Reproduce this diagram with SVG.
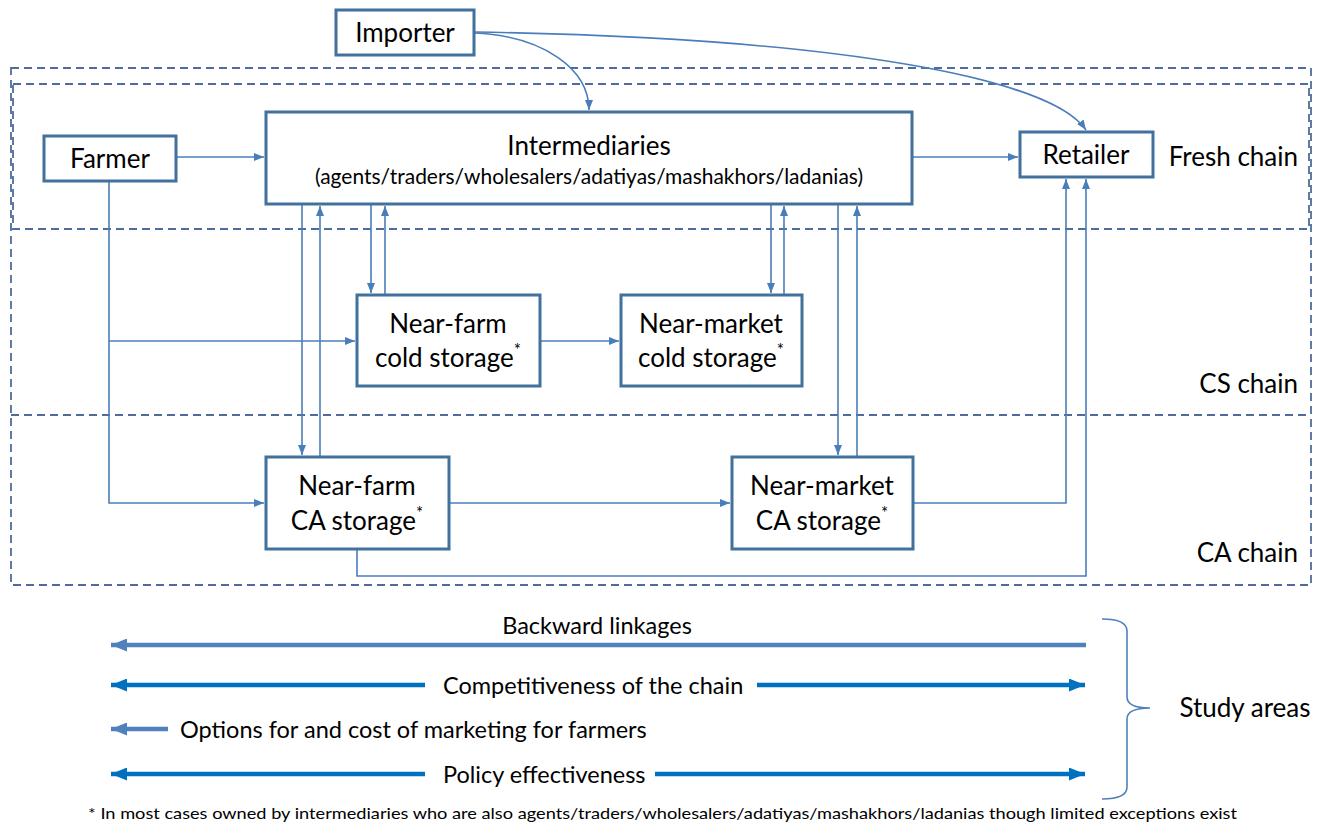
<svg xmlns="http://www.w3.org/2000/svg" width="1329" height="824" viewBox="0 0 1329 824">
  <defs>
    <style>
      .box { fill: #ffffff; stroke: #41719C; stroke-width: 3; }
      .lbl { font-family: Lato, "Liberation Sans", sans-serif; font-size: 26px; fill: #000000; text-anchor: middle; }
      .sub { font-family: Lato, "Liberation Sans", sans-serif; font-size: 20.5px; fill: #000000; text-anchor: middle; }
      .sup { font-size: 17px; }
      .zone { font-family: Lato, "Liberation Sans", sans-serif; font-size: 26px; fill: #000000; text-anchor: end; }
      .dash { fill: none; stroke: #4E6D9C; stroke-width: 1.8; stroke-dasharray: 8 5; }
      .con { fill: none; stroke: #4A7EBB; stroke-width: 1.6; marker-end: url(#arr); }
      .area { font-family: Lato, "Liberation Sans", sans-serif; font-size: 23.5px; fill: #000000; }
      .bl { fill: none; stroke: #4F81BD; stroke-width: 4.5; }
      .bb { fill: none; stroke: #0070C0; stroke-width: 4.5; }
      .note { font-family: Lato, "Liberation Sans", sans-serif; font-size: 15px; fill: #000000; }
    </style>
    <marker id="arr" viewBox="0 0 10 8" refX="10" refY="4" markerWidth="10" markerHeight="8" markerUnits="userSpaceOnUse" orient="auto">
      <path d="M0,0 L10,4 L0,8 z" fill="#4A7EBB"/>
    </marker>
    <marker id="bigL" viewBox="0 0 16 13" refX="16" refY="6.5" markerWidth="16" markerHeight="13" markerUnits="userSpaceOnUse" orient="auto">
      <path d="M0,0 L16,6.5 L0,13 z" fill="#4F81BD"/>
    </marker>
    <marker id="bigB" viewBox="0 0 16 13" refX="16" refY="6.5" markerWidth="16" markerHeight="13" markerUnits="userSpaceOnUse" orient="auto">
      <path d="M0,0 L16,6.5 L0,13 z" fill="#0070C0"/>
    </marker>
  </defs>

  <!-- chain zones -->
  <g id="zones">
    <rect class="dash" x="11" y="68" width="1300" height="517"/>
    <rect class="dash" x="13" y="84" width="1296" height="145"/>
    <line class="dash" x1="11" y1="415" x2="1311" y2="415"/>
    <text class="zone" x="1298" y="166">Fresh chain</text>
    <text class="zone" x="1298" y="393">CS chain</text>
    <text class="zone" x="1298" y="562">CA chain</text>
  </g>

  <!-- flows between actors -->
  <g id="connectors">
    <path class="con" d="M474,33 C545,36 589,70 589,110"/>
    <path class="con" d="M474,32 C840,38 1050,78 1086,130"/>
    <path class="con" d="M176,157 H264"/>
    <path class="con" d="M912,157 H1018"/>
    <path class="con" d="M109,181 V503 H264"/>
    <path class="con" d="M109,341 H355"/>
    <path class="con" d="M302,205 V455"/>
    <path class="con" d="M320,457 V206"/>
    <path class="con" d="M371,205 V293"/>
    <path class="con" d="M385,295 V206"/>
    <path class="con" d="M771,205 V293"/>
    <path class="con" d="M784,295 V206"/>
    <path class="con" d="M838,205 V455"/>
    <path class="con" d="M857,457 V206"/>
    <path class="con" d="M540,341 H619"/>
    <path class="con" d="M449,503 H730"/>
    <path class="con" d="M913,503 H1066 V179"/>
    <path class="con" d="M357,549 V576 H1086 V179"/>
  </g>

  <g id="importer">
    <rect class="box" x="336" y="10" width="138" height="45"/>
    <text class="lbl" x="405" y="42">Importer</text>
  </g>

  <g id="farmer">
    <rect class="box" x="44" y="136" width="132" height="45"/>
    <text class="lbl" x="110" y="168">Farmer</text>
  </g>

  <g id="intermediaries">
    <rect class="box" x="266" y="112" width="646" height="92"/>
    <text class="lbl" x="589" y="155">Intermediaries</text>
    <text class="sub" x="589" y="184" textLength="548" lengthAdjust="spacingAndGlyphs">(agents/traders/wholesalers/adatiyas/mashakhors/ladanias)</text>
  </g>

  <g id="retailer">
    <rect class="box" x="1020" y="132" width="133" height="45"/>
    <text class="lbl" x="1086" y="164">Retailer</text>
  </g>

  <g id="nearfarm-cold">
    <rect class="box" x="357" y="295" width="183" height="91"/>
    <text class="lbl" x="448" y="333">Near-farm</text>
    <text class="lbl" x="448" y="367">cold storage<tspan class="sup" dy="-11">*</tspan></text>
  </g>

  <g id="nearmarket-cold">
    <rect class="box" x="621" y="295" width="181" height="91"/>
    <text class="lbl" x="711" y="333">Near-market</text>
    <text class="lbl" x="711" y="367">cold storage<tspan class="sup" dy="-11">*</tspan></text>
  </g>

  <g id="nearfarm-ca">
    <rect class="box" x="266" y="457" width="183" height="92"/>
    <text class="lbl" x="357" y="495">Near-farm</text>
    <text class="lbl" x="357" y="530">CA storage<tspan class="sup" dy="-11">*</tspan></text>
  </g>

  <g id="nearmarket-ca">
    <rect class="box" x="732" y="457" width="181" height="92"/>
    <text class="lbl" x="822" y="495">Near-market</text>
    <text class="lbl" x="822" y="530">CA storage<tspan class="sup" dy="-11">*</tspan></text>
  </g>

  <!-- study areas -->
  <g id="study-areas">
    <line class="bl" x1="1086" y1="645" x2="111" y2="645" marker-end="url(#bigL)"/>
    <text class="area" x="597" y="634" text-anchor="middle">Backward linkages</text>

    <line class="bb" x1="425" y1="685" x2="111" y2="685" marker-end="url(#bigB)"/>
    <line class="bb" x1="757" y1="685" x2="1085" y2="685" marker-end="url(#bigB)"/>
    <text class="area" x="443" y="694">Competitiveness of the chain</text>

    <line class="bl" x1="168" y1="729" x2="111" y2="729" marker-end="url(#bigL)"/>
    <text class="area" x="180" y="738">Options for and cost of marketing for farmers</text>

    <line class="bb" x1="425" y1="774" x2="111" y2="774" marker-end="url(#bigB)"/>
    <line class="bb" x1="655" y1="774" x2="1085" y2="774" marker-end="url(#bigB)"/>
    <text class="area" x="443" y="783">Policy effectiveness</text>

    <path d="M1102,619 Q1127,619 1127,631 V697 Q1127,708 1150,708 Q1127,708 1127,719 V787 Q1127,799 1102,799" fill="none" stroke="#4F81BD" stroke-width="1.6"/>
    <text class="lbl" x="1245" y="717">Study areas</text>
  </g>

  <text class="note" x="88" y="819" textLength="1149" lengthAdjust="spacingAndGlyphs">* In most cases owned by intermediaries who are also agents/traders/wholesalers/adatiyas/mashakhors/ladanias though limited exceptions exist</text>
</svg>
